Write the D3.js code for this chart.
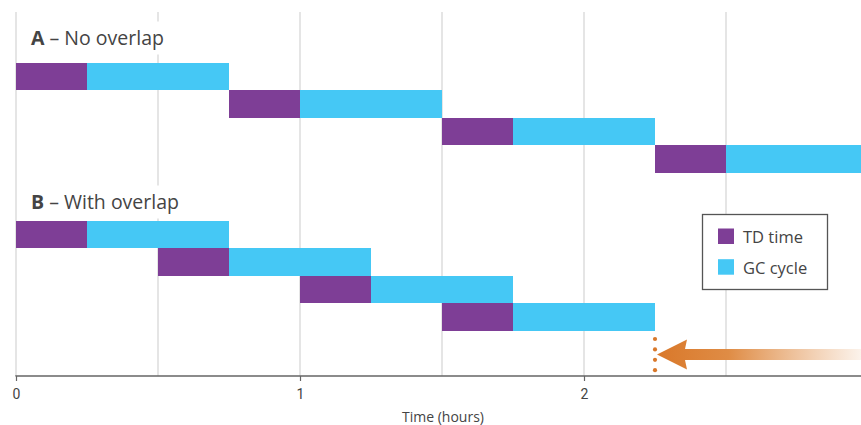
<!DOCTYPE html>
<html>
<head>
<meta charset="utf-8">
<script src="https://cdn.jsdelivr.net/npm/d3@7"></script>
<style>
  html, body { margin: 0; padding: 0; background: #fff; }
  svg { display: block; }
  text { font-family: "Open Sans", Roboto, "Liberation Sans", sans-serif; fill: #444; }
</style>
</head>
<body>
<svg id="chart" width="861" height="425"></svg>
<script>
// ---- data ----
const panelLabels = ["A", "B"];
const panelTitles = ["No overlap", "With overlap"];
const seriesNames = ["TD time", "GC cycle"];
// [start, end] in hours for each row
const panelA_td = [[0, 0.25], [0.75, 1.0], [1.5, 1.75], [2.25, 2.5]];
const panelA_gc = [[0.25, 0.75], [1.0, 1.5], [1.75, 2.25], [2.5, 3.0]];
const panelB_td = [[0, 0.25], [0.5, 0.75], [1.0, 1.25], [1.5, 1.75]];
const panelB_gc = [[0.25, 0.75], [0.75, 1.25], [1.25, 1.75], [1.75, 2.25]];
const xTicks = [0, 1, 2];
const gridTicks = [0, 0.5, 1, 1.5, 2, 2.5];
const markerTime = 2.25;
const xTitle = "Time (hours)";

const colors = { td: "#7e3e96", gc: "#45c8f5" };

const svg = d3.select("#chart");
const W = 861, H = 425;

const x = d3.scaleLinear().domain([0, 3]).range([16, 868]);
const rowsA = d3.scaleBand().domain(d3.range(4)).range([63, 172.5]).paddingInner(0);
const rowsB = d3.scaleBand().domain(d3.range(4)).range([221, 330.5]).paddingInner(0);

const defs = svg.append("defs");
const grad = defs.append("linearGradient").attr("id", "arrowGrad")
  .attr("x1", "0%").attr("x2", "100%").attr("y1", "0%").attr("y2", "0%");
grad.append("stop").attr("offset", "0%").attr("stop-color", "#d9782a").attr("stop-opacity", 1);
grad.append("stop").attr("offset", "35%").attr("stop-color", "#df8c45").attr("stop-opacity", 1);
grad.append("stop").attr("offset", "100%").attr("stop-color", "#e3995a").attr("stop-opacity", 0.12);

// gridlines
svg.append("g").selectAll("line").data(gridTicks).join("line")
  .attr("x1", d => x(d)).attr("x2", d => x(d))
  .attr("y1", 12).attr("y2", 376)
  .attr("stroke", "#dcdcdc").attr("stroke-width", 1.5);

// panel titles with white background
const titleY = [44.5, 208.5];
panelLabels.forEach((lab, i) => {
  svg.append("rect").attr("x", 19).attr("y", titleY[i] - 23).attr("width", 160).attr("height", 33).attr("fill", "#fff");
  const t = svg.append("text").attr("x", 31).attr("y", titleY[i]).attr("font-size", 19.5);
  t.append("tspan").attr("font-weight", "bold").text(lab);
  t.append("tspan").text(" \u2013 " + panelTitles[i]);
});

function drawBars(data, rows, color) {
  svg.append("g").selectAll("rect").data(data).join("rect")
    .attr("x", d => x(d[0]))
    .attr("width", d => x(d[1]) - x(d[0]))
    .attr("y", (d, i) => rows(i))
    .attr("height", rows.bandwidth())
    .attr("fill", color)
    .attr("shape-rendering", "crispEdges");
}
drawBars(panelA_td, rowsA, colors.td);
drawBars(panelA_gc, rowsA, colors.gc);
drawBars(panelB_td, rowsB, colors.td);
drawBars(panelB_gc, rowsB, colors.gc);

// axis
const axis = d3.axisBottom(x).tickValues(xTicks).tickFormat(d3.format("d")).tickSize(5).tickPadding(8);
const ag = svg.append("g").attr("transform", "translate(0,376)").call(axis);
ag.select(".domain").attr("stroke", "#666").attr("stroke-width", 1.5).attr("d", `M${x(0)},0.5V0H${W}`);
ag.selectAll(".tick line").attr("stroke", "#666").attr("stroke-width", 1.2);
ag.selectAll(".tick text").attr("font-size", 14).attr("fill", "#444")
  .style("font-family", "Roboto, 'Liberation Sans', sans-serif");

svg.append("text").attr("x", 443).attr("y", 422).attr("text-anchor", "middle")
  .attr("font-size", 14).text(xTitle);

// marker dotted line
const mx = x(markerTime);
svg.append("g").selectAll("circle").data(d3.range(4)).join("circle")
  .attr("cx", mx).attr("cy", d => 339 + d * 10.4).attr("r", 2.1).attr("fill", "#d9782a");

// arrow
const ay = 354.5;
svg.append("path")
  .attr("d", `M${mx + 2},${ay} L${mx + 32},${ay - 15} L${mx + 30},${ay - 5.5} L${W},${ay - 5.5} L${W},${ay + 5.5} L${mx + 30},${ay + 5.5} L${mx + 32},${ay + 15} Z`)
  .attr("fill", "url(#arrowGrad)");

// legend
const lg = svg.append("g");
lg.append("rect").attr("x", 702.5).attr("y", 214.5).attr("width", 125).attr("height", 75)
  .attr("fill", "#fff").attr("stroke", "#555").attr("stroke-width", 1.3);
[colors.td, colors.gc].forEach((c, i) => {
  lg.append("rect").attr("x", 718).attr("y", 228.5 + i * 30.7).attr("width", 16).attr("height", 15.5).attr("fill", c);
  lg.append("text").attr("x", 743).attr("y", 243 + i * 31).attr("font-size", 16.5).text(seriesNames[i]);
});
</script>
</body>
</html>
